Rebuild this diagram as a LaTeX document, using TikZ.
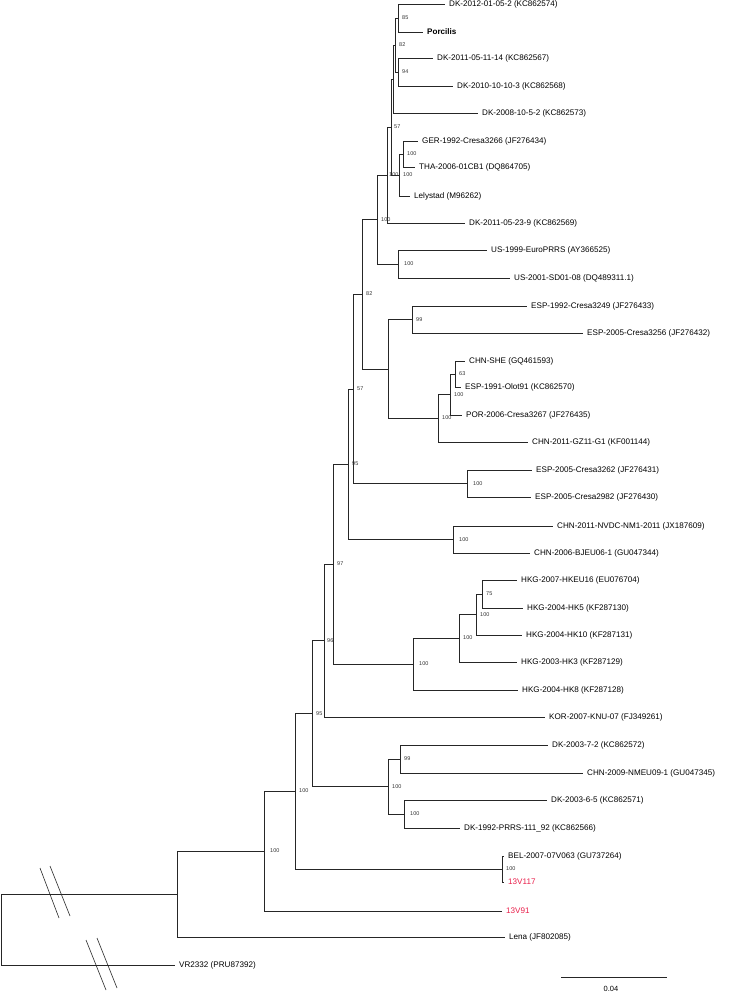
\documentclass[tikz,border=0pt]{standalone}
\usepackage{fontspec}
\setmainfont{Liberation Sans}
\usetikzlibrary{positioning}
\definecolor{isored}{RGB}{232,28,72}

\tikzset{
  branch/.style={draw=black!85, line width=0.8pt},
  taxon/.style={anchor=west, inner sep=0pt, text height=5.8pt, text depth=0pt,
    font=\fontsize{8.1}{9}\selectfont, text=black},
  isolate/.style={taxon, text=isored},
  boot/.style={anchor=west, inner sep=0pt, font=\fontsize{5.5}{6}\selectfont, text=black!80},
}

\begin{document}
\begin{tikzpicture}[x=1pt, y=-1pt]
  \useasboundingbox (0,0) rectangle (743,992);

  % Internal nodes
  \coordinate (root) at (1,929.5);
  \coordinate (nA)  at (177,894);
  \coordinate (nB)  at (264,851);
  \coordinate (nC)  at (295,791);
  \coordinate (nD)  at (312,713.5);
  \coordinate (nE)  at (502,869);
  \coordinate (nF)  at (324,640.5);
  \coordinate (nG)  at (333,564);
  \coordinate (nH)  at (348,464);
  \coordinate (nI)  at (353,389);
  \coordinate (nJ)  at (362,294);
  \coordinate (nK)  at (377,219.5);
  \coordinate (nL)  at (388,369);
  \coordinate (nM)  at (387,175);
  \coordinate (nN)  at (391,127);
  \coordinate (nP)  at (399,175);
  \coordinate (nQ)  at (398,18);
  \coordinate (nR)  at (398,72);
  \coordinate (nS)  at (395,45);
  \coordinate (nT)  at (393,79);
  \coordinate (nU)  at (403,154);
  \coordinate (nV)  at (398,264);
  \coordinate (nW)  at (412,319.5);
  \coordinate (nX)  at (438,418);
  \coordinate (nY)  at (450,394.5);
  \coordinate (nZ)  at (455,374);
  \coordinate (nAA) at (467,483.5);
  \coordinate (nBB) at (453,539.5);
  \coordinate (nCC) at (413,664);
  \coordinate (nDD) at (459,638);
  \coordinate (nEE) at (476,614.5);
  \coordinate (nFF) at (482,594);
  \coordinate (nGG) at (388,786.5);
  \coordinate (nHH) at (400,759);
  \coordinate (nII) at (404,814);

  % Branch ends and taxa
  \coordinate (t01) at (445,4);
  \node[taxon, right=4pt of t01] (l01) {DK-2012-01-05-2 (KC862574)};
  \coordinate (t02) at (423,32);
  \node[taxon, right=4pt of t02] (l02) {\bfseries Porcilis};
  \coordinate (t03) at (433,58);
  \node[taxon, right=4pt of t03] (l03) {DK-2011-05-11-14 (KC862567)};
  \coordinate (t04) at (453,86);
  \node[taxon, right=4pt of t04] (l04) {DK-2010-10-10-3 (KC862568)};
  \coordinate (t05) at (478,113);
  \node[taxon, right=4pt of t05] (l05) {DK-2008-10-5-2 (KC862573)};
  \coordinate (t06) at (418,141);
  \node[taxon, right=4pt of t06] (l06) {GER-1992-Cresa3266 (JF276434)};
  \coordinate (t07) at (415,167);
  \node[taxon, right=4pt of t07] (l07) {THA-2006-01CB1 (DQ864705)};
  \coordinate (t08) at (410,196);
  \node[taxon, right=4pt of t08] (l08) {Lelystad (M96262)};
  \coordinate (t09) at (465,223);
  \node[taxon, right=4pt of t09] (l09) {DK-2011-05-23-9 (KC862569)};
  \coordinate (t10) at (487,250);
  \node[taxon, right=4pt of t10] (l10) {US-1999-EuroPRRS (AY366525)};
  \coordinate (t11) at (510,278);
  \node[taxon, right=4pt of t11] (l11) {US-2001-SD01-08 (DQ489311.1)};
  \coordinate (t12) at (527,306);
  \node[taxon, right=4pt of t12] (l12) {ESP-1992-Cresa3249 (JF276433)};
  \coordinate (t13) at (583,333);
  \node[taxon, right=4pt of t13] (l13) {ESP-2005-Cresa3256 (JF276432)};
  \coordinate (t14) at (465,361);
  \node[taxon, right=4pt of t14] (l14) {CHN-SHE (GQ461593)};
  \coordinate (t15) at (461,387);
  \node[taxon, right=4pt of t15] (l15) {ESP-1991-Olot91 (KC862570)};
  \coordinate (t16) at (462,415);
  \node[taxon, right=4pt of t16] (l16) {POR-2006-Cresa3267 (JF276435)};
  \coordinate (t17) at (528,442);
  \node[taxon, right=4pt of t17] (l17) {CHN-2011-GZ11-G1 (KF001144)};
  \coordinate (t18) at (532,470);
  \node[taxon, right=4pt of t18] (l18) {ESP-2005-Cresa3262 (JF276431)};
  \coordinate (t19) at (531,497);
  \node[taxon, right=4pt of t19] (l19) {ESP-2005-Cresa2982 (JF276430)};
  \coordinate (t20) at (553,526);
  \node[taxon, right=4pt of t20] (l20) {CHN-2011-NVDC-NM1-2011 (JX187609)};
  \coordinate (t21) at (530,553);
  \node[taxon, right=4pt of t21] (l21) {CHN-2006-BJEU06-1 (GU047344)};
  \coordinate (t22) at (517,580);
  \node[taxon, right=4pt of t22] (l22) {HKG-2007-HKEU16 (EU076704)};
  \coordinate (t23) at (523,608);
  \node[taxon, right=4pt of t23] (l23) {HKG-2004-HK5 (KF287130)};
  \coordinate (t24) at (522,635);
  \node[taxon, right=4pt of t24] (l24) {HKG-2004-HK10 (KF287131)};
  \coordinate (t25) at (517,662);
  \node[taxon, right=4pt of t25] (l25) {HKG-2003-HK3 (KF287129)};
  \coordinate (t26) at (518,690);
  \node[taxon, right=4pt of t26] (l26) {HKG-2004-HK8 (KF287128)};
  \coordinate (t27) at (545,717);
  \node[taxon, right=4pt of t27] (l27) {KOR-2007-KNU-07 (FJ349261)};
  \coordinate (t28) at (548,745);
  \node[taxon, right=4pt of t28] (l28) {DK-2003-7-2 (KC862572)};
  \coordinate (t29) at (583,773);
  \node[taxon, right=4pt of t29] (l29) {CHN-2009-NMEU09-1 (GU047345)};
  \coordinate (t30) at (547,800);
  \node[taxon, right=4pt of t30] (l30) {DK-2003-6-5 (KC862571)};
  \coordinate (t31) at (460,828);
  \node[taxon, right=4pt of t31] (l31) {DK-1992-PRRS-111\_92 (KC862566)};
  \coordinate (t32) at (504,856);
  \node[taxon, right=4pt of t32] (l32) {BEL-2007-07V063 (GU737264)};
  \coordinate (t33) at (504,882);
  \node[isolate, right=4pt of t33] (l33) {13V117};
  \coordinate (t34) at (502,911);
  \node[isolate, right=4pt of t34] (l34) {13V91};
  \coordinate (t35) at (505,937);
  \node[taxon, right=4pt of t35] (l35) {Lena (JF802085)};
  \coordinate (t36) at (175,965);
  \node[taxon, right=4pt of t36] (l36) {VR2332 (PRU87392)};

  % Branches
  \draw[branch] (root) |- (nA)  (root) |- (t36);
  \draw[branch] (nA) |- (nB)  (nA) |- (t35);
  \draw[branch] (nB) |- (nC)  (nB) |- (t34);
  \draw[branch] (nC) |- (nD)  (nC) |- (nE);
  \draw[branch] (nE) |- (t32)  (nE) |- (t33);
  \draw[branch] (nD) |- (nF)  (nD) |- (nGG);
  \draw[branch] (nGG) |- (nHH)  (nGG) |- (nII);
  \draw[branch] (nHH) |- (t28)  (nHH) |- (t29);
  \draw[branch] (nII) |- (t30)  (nII) |- (t31);
  \draw[branch] (nF) |- (nG)  (nF) |- (t27);
  \draw[branch] (nG) |- (nH)  (nG) |- (nCC);
  \draw[branch] (nCC) |- (nDD)  (nCC) |- (t26);
  \draw[branch] (nDD) |- (nEE)  (nDD) |- (t25);
  \draw[branch] (nEE) |- (nFF)  (nEE) |- (t24);
  \draw[branch] (nFF) |- (t22)  (nFF) |- (t23);
  \draw[branch] (nH) |- (nI)  (nH) |- (nBB);
  \draw[branch] (nBB) |- (t20)  (nBB) |- (t21);
  \draw[branch] (nI) |- (nJ)  (nI) |- (nAA);
  \draw[branch] (nAA) |- (t18)  (nAA) |- (t19);
  \draw[branch] (nJ) |- (nK)  (nJ) |- (nL);
  \draw[branch] (nL) |- (nW)  (nL) |- (nX);
  \draw[branch] (nW) |- (t12)  (nW) |- (t13);
  \draw[branch] (nX) |- (nY)  (nX) |- (t17);
  \draw[branch] (nY) |- (nZ)  (nY) |- (t16);
  \draw[branch] (nZ) |- (t14)  (nZ) |- (t15);
  \draw[branch] (nK) |- (nM)  (nK) |- (nV);
  \draw[branch] (nV) |- (t10)  (nV) |- (t11);
  \draw[branch] (nM) |- (nN)  (nM) |- (t09);
  \draw[branch] (nN) |- (nT)  (nN) |- (nP);
  \draw[branch] (nP) |- (nU)  (nP) |- (t08);
  \draw[branch] (nU) |- (t06)  (nU) |- (t07);
  \draw[branch] (nT) |- (nS)  (nT) |- (t05);
  \draw[branch] (nS) |- (nQ)  (nS) |- (nR);
  \draw[branch] (nQ) |- (t01)  (nQ) |- (t02);
  \draw[branch] (nR) |- (t03)  (nR) |- (t04);

  % Bootstrap values
  \node[boot, right=6pt of nB] (bB) {100};
  \node[boot, right=4pt of nC] (bC) {100};
  \node[boot, right=4pt of nD] (bD) {95};
  \node[boot, right=4pt of nE] (bE) {100};
  \node[boot, right=3pt of nF] (bF) {96};
  \node[boot, right=4pt of nG] (bG) {97};
  \node[boot, right=4pt of nH] (bH) {95};
  \node[boot, right=4pt of nI] (bI) {57};
  \node[boot, right=4pt of nJ] (bJ) {82};
  \node[boot, right=4pt of nK] (bK) {100};
  \node[boot, right=2pt of nM] (bM) {100};
  \node[boot, right=3pt of nN] (bN) {57};
  \node[boot, right=4pt of nP] (bP) {100};
  \node[boot, right=4pt of nQ] (bQ) {85};
  \node[boot, right=4pt of nR] (bR) {94};
  \node[boot, right=4pt of nS] (bS) {82};
  \node[boot, right=4pt of nU] (bU) {100};
  \node[boot, right=6pt of nV] (bV) {100};
  \node[boot, right=4pt of nW] (bW) {99};
  \node[boot, right=4pt of nX] (bX) {100};
  \node[boot, right=4pt of nY] (bY) {100};
  \node[boot, right=4pt of nZ] (bZ) {63};
  \node[boot, right=6pt of nAA] (bAA) {100};
  \node[boot, right=6pt of nBB] (bBB) {100};
  \node[boot, right=6pt of nCC] (bCC) {100};
  \node[boot, right=4pt of nDD] (bDD) {100};
  \node[boot, right=4pt of nEE] (bEE) {100};
  \node[boot, right=4pt of nFF] (bFF) {75};
  \node[boot, right=4pt of nGG] (bGG) {100};
  \node[boot, right=4pt of nHH] (bHH) {99};
  \node[boot, right=6pt of nII] (bII) {100};

  % Breaks on the root branches
  \draw[black!85, line width=0.6pt] (40,868) -- (59,918)  (50,866) -- (70,916);
  \draw[black!85, line width=0.6pt] (86,940) -- (106,990)  (97,938) -- (117,988);

  % Scale bar
  \coordinate (sbl) at (561,977);
  \coordinate (sbr) at (667,977);
  \draw[branch] (sbl) -- (sbr);
  \node[font=\fontsize{7.5}{8}\selectfont, inner sep=0pt] (sbt) at (611,989) {0.04};

\end{tikzpicture}
\end{document}
